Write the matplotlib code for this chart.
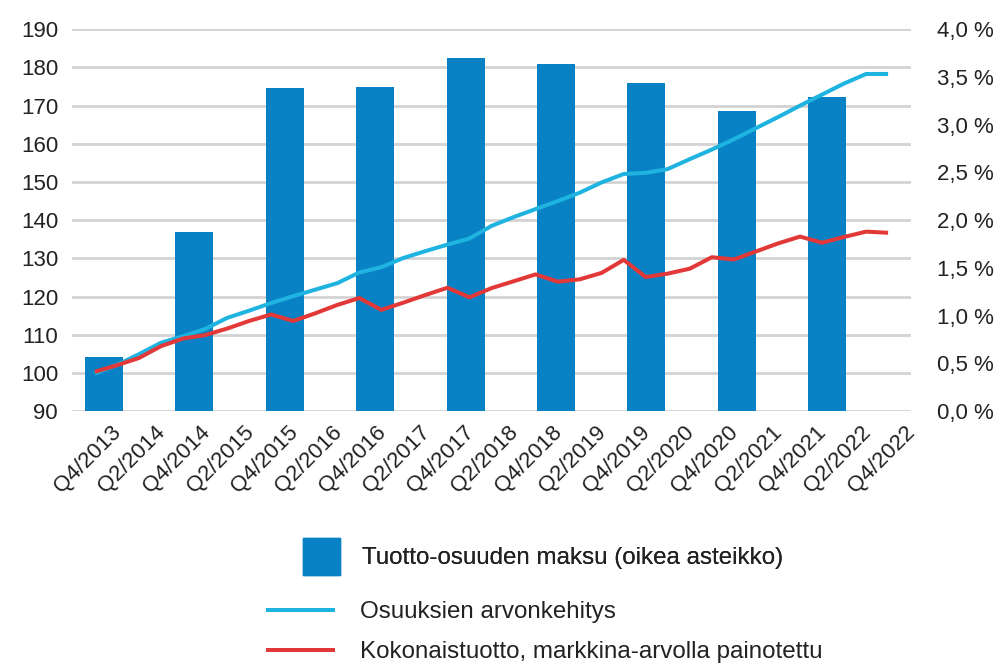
import matplotlib
matplotlib.use("Agg")
import matplotlib.pyplot as plt
from matplotlib.lines import Line2D
from matplotlib.patches import Patch
from matplotlib.transforms import ScaledTranslation

plt.rcParams['font.family'] = ['Liberation Sans', 'DejaVu Sans']

# quarterly index, Q4/2013 .. Q4/2022
arvonkehitys = [99.8, 102.1, 104.9, 107.9, 109.6, 111.5, 114.4, 116.3, 118.3, 120.1,
                121.8, 123.5, 126.3, 127.7, 130.1, 131.9, 133.6, 135.2, 138.5, 140.8,
                142.9, 145.0, 147.2, 149.9, 152.1, 152.4, 153.4, 156.0, 158.5, 161.2,
                164.1, 167.0, 170.0, 172.9, 175.8, 178.3, 178.3]
kokonaistuotto = [100.3, 102.0, 103.9, 107.0, 109.0, 109.9, 111.6, 113.6, 115.3, 113.6,
                  115.6, 117.8, 119.6, 116.5, 118.4, 120.4, 122.3, 119.8, 122.2, 124.0,
                  125.8, 123.9, 124.5, 126.2, 129.6, 125.1, 126.0, 127.3, 130.3, 129.7,
                  131.8, 133.9, 135.7, 134.1, 135.6, 137.0, 136.7]
# annual payment, % (right axis)
maksu = [0.57, 1.88, 3.38, 3.40, 3.70, 3.64, 3.44, 3.14, 3.29]

tick_labels = ['Q4/2013', 'Q2/2014', 'Q4/2014', 'Q2/2015', 'Q4/2015', 'Q2/2016',
               'Q4/2016', 'Q2/2017', 'Q4/2017', 'Q2/2018', 'Q4/2018', 'Q2/2019',
               'Q4/2019', 'Q2/2020', 'Q4/2020', 'Q2/2021', 'Q4/2021', 'Q2/2022',
               'Q4/2022']

c_bar = '#0882c5'
c_cyan = '#1fb3e0'
c_red = '#e23838'
c_grid = '#d3d3d3'
c_text = '#222222'
fs = 16
fs_leg = 17.4
lw = 2.9

fig = plt.figure(figsize=(10.07, 6.63), dpi=100)
rect = [0.0715, 0.380, 0.8332, 0.5758]

# base axes: left scale, grid, x labels
ax = fig.add_axes(rect)
n = len(arvonkehitys)
ax.set_xlim(-1.04, n - 1 + 1.04)
ax.set_ylim(90, 190)
ax.set_yticks(range(90, 191, 10))
ax.grid(axis='y', color=c_grid, linewidth=2)
ax.set_axisbelow(True)
for s in ax.spines.values():
    s.set_visible(False)
ax.set_xticks(range(0, n, 2))
ax.set_xticklabels(tick_labels, rotation=45, ha='right', va='top',
                   rotation_mode='anchor', fontsize=fs, color=c_text)
ax.tick_params(axis='x', length=0, pad=8)
ax.tick_params(axis='y', length=0, pad=10, labelsize=fs, labelcolor=c_text)
shift = ScaledTranslation(0.16, 0, fig.dpi_scale_trans)
for lab in ax.get_xticklabels():
    lab.set_transform(lab.get_transform() + shift)

# bars on right scale
axb = fig.add_axes(rect, facecolor='none')
axb.bar(range(len(maksu)), maksu, width=0.42, color=c_bar)
axb.set_xlim(-0.354, 8.926)
axb.set_ylim(0, 4)
axb.set_xticks([])
axb.yaxis.tick_right()
axb.set_yticks([i * 0.5 for i in range(9)])
axb.set_yticklabels([f'{i * 0.5:.1f} %'.replace('.', ',') for i in range(9)])
axb.tick_params(axis='y', length=0, pad=18.5, labelsize=fs, labelcolor=c_text)
for s in axb.spines.values():
    s.set_visible(False)

# lines on top
axl = fig.add_axes(rect, facecolor='none', sharex=ax, sharey=ax)
axl.plot(range(n), arvonkehitys, color=c_cyan, linewidth=lw, solid_capstyle='butt')
axl.plot(range(n), kokonaistuotto, color=c_red, linewidth=lw, solid_capstyle='butt')
axl.axis('off')

leg1 = fig.legend(handles=[Patch(color=c_bar, label='Tuotto-osuuden maksu (oikea asteikko)')],
                  loc='upper left', bbox_to_anchor=(0.3009, 0.1885), frameon=False,
                  borderpad=0, borderaxespad=0, fontsize=fs_leg, handlelength=1.53,
                  handleheight=1.95, handletextpad=0.9, labelcolor=c_text)
fig.legend(handles=[Line2D([], [], color=c_cyan, linewidth=lw, label='Osuuksien arvonkehitys'),
                    Line2D([], [], color=c_red, linewidth=lw,
                           label='Kokonaistuotto, markkina-arvolla painotettu')],
           loc='upper left', bbox_to_anchor=(0.2661, 0.0935), frameon=False,
           borderpad=0, borderaxespad=0, fontsize=fs_leg, handlelength=2.7,
           handletextpad=1.1, labelspacing=0.75, labelcolor=c_text)
fig.add_artist(leg1)

fig.savefig('out.png', dpi=100)
